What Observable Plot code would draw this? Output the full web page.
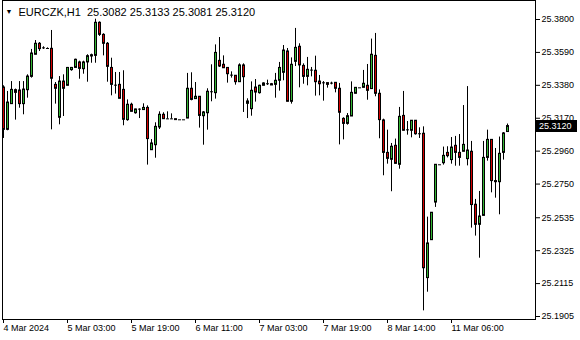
<!DOCTYPE html>
<html>
<head>
<meta charset="utf-8">
<script src="https://cdn.jsdelivr.net/npm/d3@7"></script>
<script src="https://cdn.jsdelivr.net/npm/@observablehq/plot@0.6"></script>
<style>
  html, body { margin: 0; padding: 0; background: #fff; }
  #chart { width: 580px; height: 340px; }
</style>
</head>
<body>
<div id="chart"></div>
<script>
const opens = [25.3366,25.3096,25.3260,25.3349,25.3347,25.3260,25.3349,25.3434,25.3575,25.3645,
25.3619,25.3617,25.3613,25.3383,25.3173,25.3404,25.3377,25.3477,25.3491,25.3526,
25.3483,25.3526,25.3564,25.3568,25.3779,25.3702,25.3645,25.3491,25.3383,25.3383,
25.3351,25.3158,25.3256,25.3202,25.3226,25.3222,25.3236,25.2966,25.2998,25.3111,
25.3192,25.3166,25.3166,25.3164,25.3160,25.3160,25.3168,25.3358,25.3292,25.3307,
25.3183,25.3202,25.3339,25.3330,25.3536,25.3511,25.3491,25.3445,25.3441,25.3400,
25.3507,25.3262,25.3228,25.3366,25.3330,25.3377,25.3390,25.3387,25.3383,25.3409,
25.3460,25.3596,25.3275,25.3530,25.3626,25.3504,25.3434,25.3477,25.3473,25.3404,
25.3396,25.3394,25.3394,25.3396,25.3358,25.3166,25.3134,25.3181,25.3326,25.3364,
25.3364,25.3377,25.3356,25.3568,25.3326,25.3156,25.2949,25.2905,25.2994,25.2873,
25.3185,25.3096,25.3090,25.3154,25.3071,25.3071,25.2150,25.2392,25.2632,25.2873,
25.2883,25.2949,25.2903,25.2994,25.2949,25.2956,25.2909,25.2956,25.2618,25.2490,
25.2547,25.2917,25.3032,25.2769,25.2762,25.2949,25.3082];
const highs = [25.3377,25.3341,25.3404,25.3356,25.3404,25.3404,25.3447,25.3609,25.3666,25.3653,
25.3626,25.3619,25.3730,25.3398,25.3436,25.3447,25.3494,25.3494,25.3547,25.3534,
25.3534,25.3575,25.3579,25.3802,25.3785,25.3709,25.3653,25.3553,25.3462,25.3462,
25.3473,25.3287,25.3266,25.3228,25.3230,25.3262,25.3249,25.3034,25.3141,25.3211,
25.3205,25.3211,25.3198,25.3164,25.3160,25.3160,25.3456,25.3460,25.3398,25.3307,
25.3213,25.3358,25.3511,25.3638,25.3685,25.3568,25.3491,25.3466,25.3441,25.3517,
25.3517,25.3294,25.3402,25.3417,25.3381,25.3396,25.3413,25.3392,25.3456,25.3526,
25.3634,25.3615,25.3555,25.3743,25.3645,25.3517,25.3558,25.3494,25.3566,25.3443,
25.3404,25.3394,25.3400,25.3396,25.3392,25.3173,25.3200,25.3402,25.3364,25.3364,
25.3475,25.3513,25.3675,25.3711,25.3351,25.3164,25.3094,25.3009,25.3037,25.3239,
25.3341,25.3149,25.3154,25.3154,25.3109,25.3115,25.2539,25.2567,25.2873,25.2873,
25.2986,25.2988,25.3047,25.3054,25.3066,25.3251,25.3372,25.3022,25.2652,25.2703,
25.3022,25.3094,25.3032,25.2977,25.3050,25.3079,25.3133];
const lows = [25.3041,25.3090,25.3260,25.3158,25.3234,25.3192,25.3298,25.3426,25.3575,25.3596,
25.3609,25.3613,25.3096,25.3260,25.3128,25.3181,25.3377,25.3470,25.3491,25.3419,
25.3451,25.3400,25.3521,25.3521,25.3692,25.3568,25.3400,25.3313,25.3324,25.3294,
25.3122,25.3151,25.3211,25.3196,25.3168,25.3222,25.2871,25.2966,25.2915,25.3098,
25.3164,25.3164,25.3164,25.3158,25.3160,25.3160,25.3168,25.3281,25.3292,25.3107,
25.2998,25.3094,25.3275,25.3292,25.3494,25.3489,25.3394,25.3426,25.3381,25.3400,
25.3207,25.3168,25.3183,25.3273,25.3324,25.3377,25.3379,25.3379,25.3298,25.3343,
25.3409,25.3275,25.3260,25.3500,25.3364,25.3387,25.3377,25.3434,25.3311,25.3313,
25.3279,25.3362,25.3383,25.3332,25.3000,25.3032,25.3126,25.3181,25.3326,25.3364,
25.3364,25.3285,25.3356,25.3307,25.3039,25.2803,25.2877,25.2701,25.2879,25.2845,
25.3090,25.3062,25.3045,25.3062,25.3041,25.1941,25.2060,25.2392,25.2601,25.2873,
25.2871,25.2917,25.2877,25.2864,25.2864,25.2956,25.2866,25.2469,25.2418,25.2277,
25.2547,25.2896,25.2694,25.2660,25.2554,25.2903,25.3081];
const closes = [25.3096,25.3270,25.3351,25.3332,25.3260,25.3353,25.3436,25.3583,25.3645,25.3611,
25.3619,25.3615,25.3422,25.3358,25.3404,25.3358,25.3491,25.3491,25.3543,25.3485,
25.3526,25.3566,25.3572,25.3779,25.3702,25.3645,25.3498,25.3383,25.3381,25.3294,
25.3160,25.3256,25.3211,25.3226,25.3228,25.3236,25.3037,25.3009,25.3115,25.3192,
25.3164,25.3166,25.3166,25.3158,25.3160,25.3160,25.3358,25.3287,25.3307,25.3185,
25.3207,25.3339,25.3339,25.3587,25.3500,25.3489,25.3451,25.3445,25.3400,25.3507,
25.3432,25.3277,25.3345,25.3334,25.3377,25.3392,25.3390,25.3379,25.3409,25.3491,
25.3602,25.3275,25.3511,25.3619,25.3507,25.3434,25.3479,25.3477,25.3400,25.3387,
25.3396,25.3383,25.3394,25.3358,25.3205,25.3134,25.3183,25.3332,25.3364,25.3364,
25.3390,25.3345,25.3575,25.3326,25.3158,25.2949,25.2911,25.2988,25.2879,25.3179,
25.3090,25.3096,25.3154,25.3068,25.3071,25.2213,25.2371,25.2567,25.2873,25.2873,
25.2930,25.2928,25.2983,25.2949,25.2917,25.3000,25.2964,25.2616,25.2490,25.2543,
25.2917,25.3032,25.2769,25.2762,25.2943,25.3073,25.3120];

const yTicks = [25.3800, 25.3590, 25.3380, 25.3170, 25.2960, 25.2750, 25.2535, 25.2325, 25.2115, 25.1905];
const xTickIndex = [0, 16, 32, 48, 64, 80, 96, 112];
const xTickLabels = ["4 Mar 2024", "5 Mar 03:00", "5 Mar 19:00", "6 Mar 11:00", "7 Mar 03:00", "7 Mar 19:00", "8 Mar 14:00", "11 Mar 06:00"];
const symbol = "EURCZK,H1";

const bars = closes.map((c, i) => ({i, o: opens[i], h: highs[i], l: lows[i], c}));
const last = bars[bars.length - 1];
const dojiEps = 0.0004;
const upBars = bars.filter(d => d.c - d.o >= dojiEps);
const downBars = bars.filter(d => d.o - d.c >= dojiEps);
const dojis = bars.filter(d => Math.abs(d.c - d.o) < dojiEps);
const labelMap = new Map(xTickIndex.map((t, k) => [t, xTickLabels[k]]));
const fmt = v => v.toFixed(4);
const titleText = `${symbol}  ${fmt(last.o)} ${fmt(last.h)} ${fmt(last.l)} ${fmt(last.c)}`;

const GREEN = "#33b533";
const RED = "#d40000";

const chart = Plot.plot({
  width: 580,
  height: 340,
  marginLeft: 2,
  marginRight: 45,
  marginTop: 0,
  marginBottom: 21,
  style: {fontFamily: "'Liberation Sans', Arial, sans-serif", fontSize: "9px", background: "#fff", color: "#000"},
  x: {type: "linear", domain: [-0.25, 133], axis: null},
  y: {domain: [yTicks[yTicks.length - 1], yTicks[0]], range: [316, 19], axis: null},
  marks: [
    Plot.frame({stroke: "#000"}),
    Plot.ruleX(bars, {x: "i", y1: "l", y2: "h", stroke: "#000", strokeWidth: 1}),
    Plot.rect(upBars, {x1: d => d.i - 0.25, x2: d => d.i + 0.25, y1: "o", y2: "c", fill: GREEN, stroke: "#000", strokeWidth: 1, dx: 0.5}),
    Plot.rect(downBars, {x1: d => d.i - 0.25, x2: d => d.i + 0.25, y1: "o", y2: "c", fill: RED, stroke: "#000", strokeWidth: 1, dx: 0.5}),
    Plot.ruleY(dojis, {y: "c", x1: d => d.i - 0.375, x2: d => d.i + 0.375, stroke: "#000", strokeWidth: 1, dx: 0.5}),
    Plot.axisY(yTicks, {anchor: "right", tickSize: 4, tickPadding: 2, tickFormat: fmt, label: null, fontSize: 9}),
    Plot.axisX(xTickIndex, {anchor: "bottom", tickSize: 4, tickPadding: 1, tickFormat: d => labelMap.get(d), textAnchor: "start", label: null, fontSize: 9}),
    Plot.text(["\u25BC"], {frameAnchor: "top-left", dx: 6.5, dy: 11.5, lineAnchor: "middle", textAnchor: "middle", fontSize: 7, fill: "#000"}),
    Plot.text([titleText], {frameAnchor: "top-left", dx: 16, dy: 8, lineAnchor: "top", textAnchor: "start", fontSize: 11, fill: "#000"})
  ]
});

document.getElementById("chart").appendChild(chart);

// current price marker on the price axis
const ys = chart.scale("y");
const yf = ys.apply ? (v => ys.apply(v)) : d3.scaleLinear(ys.domain, ys.range);
const yLast = Math.round(yf(last.c));
const svg = d3.select(chart);
svg.append("rect").attr("x", 536).attr("y", yLast - 6).attr("width", 41).attr("height", 12).attr("fill", "#000");
svg.append("text").attr("x", 539).attr("y", yLast).attr("dy", "0.34em")
  .attr("text-anchor", "start")
  .attr("fill", "#fff").attr("font-size", 9).attr("font-family", "'Liberation Sans', Arial, sans-serif")
  .text(fmt(last.c));
</script>
</body>
</html>
